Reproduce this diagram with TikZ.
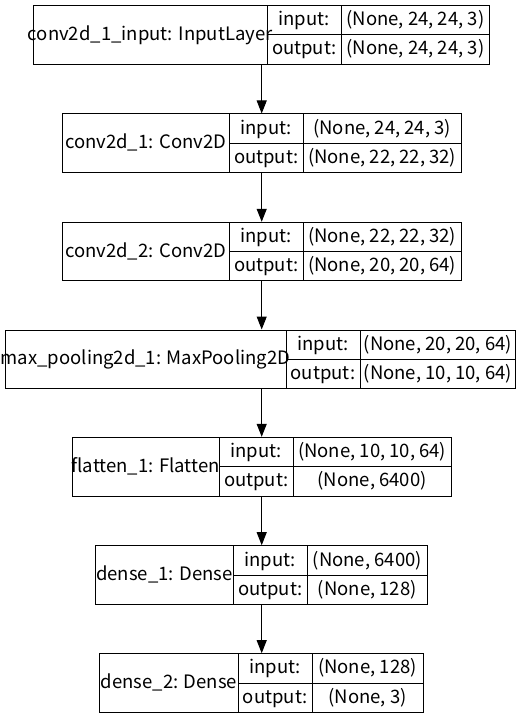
\documentclass[tikz,border=0pt]{standalone}
\usepackage{fontspec}
\setmainfont{Noto Sans CJK SC}
\usetikzlibrary{arrows.meta}
\tikzset{
  layerbox/.style={draw, line width=1pt, inner sep=0pt},
  cell/.style={inner sep=0pt, text height=14pt, text depth=3pt},
  flow/.style={-{Triangle[length=13pt,width=10pt]}, line width=1pt}
}
\begin{document}
\begin{tikzpicture}[x=1pt,y=-1pt, font=\fontsize{18.5}{20}\selectfont]
\useasboundingbox (0,0) rectangle (525,719);
\coordinate (ax) at (261.7,0);
\foreach \n/\xa/\ya/\xb/\yb/\da/\db/\ym/\lab/\inp/\outp in {
 L1/33/5.7/489.5/64.3/267.3/341.3/34.7/{conv2d\_1\_input: InputLayer}/{(None, 24, 24, 3)}/{(None, 24, 24, 3)},
 L2/62/114/461/172.3/229.3/303.3/143.3/{conv2d\_1: Conv2D}/{(None, 24, 24, 3)}/{(None, 22, 22, 32)},
 L3/62/222.3/461/280.7/229.3/303.3/251.7/{conv2d\_2: Conv2D}/{(None, 22, 22, 32)}/{(None, 20, 20, 64)},
 L4/5/330/515.7/388.3/286/360/359.7/{max\_pooling2d\_1: MaxPooling2D}/{(None, 20, 20, 64)}/{(None, 10, 10, 64)},
 L5/72/437.3/451/496/219.3/293.3/466.7/{flatten\_1: Flatten}/{(None, 10, 10, 64)}/{(None, 6400)},
 L6/95.3/545.7/427.3/604.7/233.3/307.3/575.3/{dense\_1: Dense}/{(None, 6400)}/{(None, 128)},
 L7/99.7/653.7/423/712.3/238.3/312/683/{dense\_2: Dense}/{(None, 128)}/{(None, 3)}}
{
  \node[layerbox, minimum width={\xb-\xa}, minimum height={\yb-\ya}] (\n) at ({(\xa+\xb)/2},{(\ya+\yb)/2}) {};
  \draw[line width=1pt] (\da,\ya) -- (\da,\yb) (\db,\ya) -- (\db,\yb) (\da,\ym) -- (\xb,\ym);
  \node[cell] (\n-name) at ({(\xa+\da)/2},{(\ya+\yb)/2}) {\lab};
  \node[cell] (\n-ik) at ({(\da+\db)/2},{(\ya+\ym)/2}) {input:};
  \node[cell] (\n-ok) at ({(\da+\db)/2},{(\ym+\yb)/2}) {output:};
  \node[cell] (\n-iv) at ({(\db+\xb)/2},{(\ya+\ym)/2}) {\inp};
  \node[cell] (\n-ov) at ({(\db+\xb)/2},{(\ym+\yb)/2}) {\outp};
}
\foreach \a/\b in {L1/L2,L2/L3,L3/L4,L4/L5,L5/L6,L6/L7}
  \draw[flow] (\a.south -| ax) -- (\b.north -| ax);
\end{tikzpicture}
\end{document}
